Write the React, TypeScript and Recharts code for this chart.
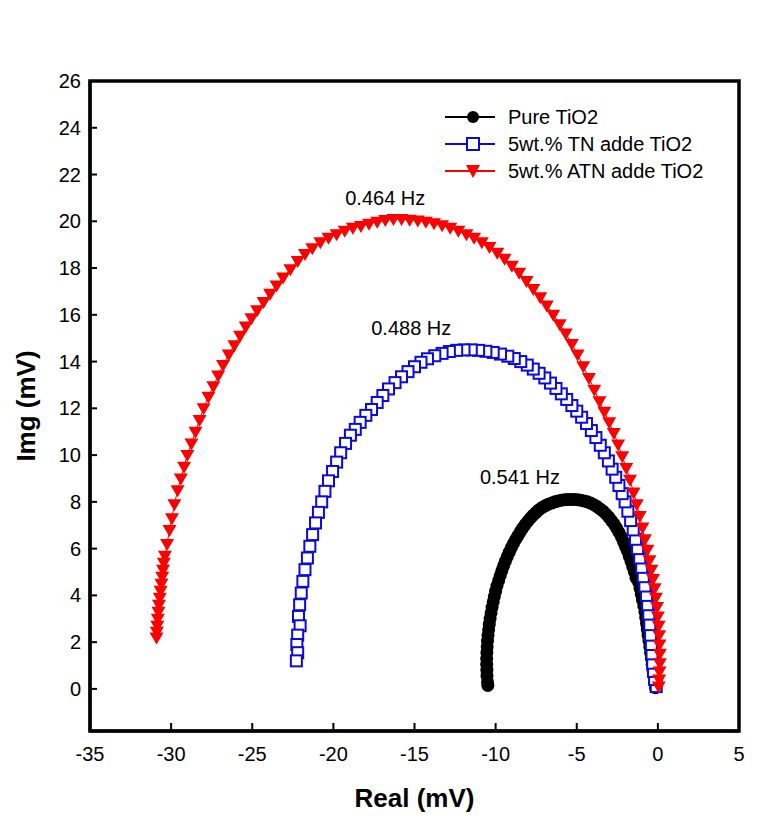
import React from 'react';
import { ScatterChart, Scatter, XAxis, YAxis, ReferenceArea, ReferenceDot } from 'recharts';

const FONT = '"Liberation Sans", Arial, sans-serif';

const seriesNames = ['Pure TiO2', '5wt.% TN adde TiO2', '5wt.% ATN adde TiO2'];
const seriesColors = ['#000000', '#0a0ae0', '#ff0000'];

const xTicks = [-35, -30, -25, -20, -15, -10, -5, 0, 5];
const yTicks = [0, 2, 4, 6, 8, 10, 12, 14, 16, 18, 20, 22, 24, 26];

const freqLabels = ['0.464 Hz', '0.488 Hz', '0.541 Hz'];
const freqLabelX = [-16.8, -15.2, -8.5];
const freqLabelY = [21.0, 15.45, 9.05];

// Pure TiO2
const pureX = [
  -0.15, -0.2, -0.25, -0.3, -0.35, -0.4, -0.45, -0.5, -0.55, -0.6,
  -0.65, -0.7, -0.75, -0.8, -0.87, -0.95, -1.02, -1.1, -1.18,
  -1.35, -1.45, -1.55, -1.65, -1.76, -1.88, -2.0, -2.12, -2.25, -2.4,
  -2.55, -2.7, -2.86, -3.03, -3.2, -3.38, -3.56, -3.75, -3.95, -4.15,
  -4.35, -4.55, -4.75, -4.95, -5.15, -5.35, -5.55, -5.75, -5.95, -6.15,
  -6.35, -6.55, -6.75, -6.95, -7.15, -7.35, -7.52, -7.7, -7.86, -8.02,
  -8.18, -8.33, -8.48, -8.62, -8.76, -8.9, -9.03, -9.16, -9.28, -9.4,
  -9.51, -9.62, -9.72, -9.82, -9.92, -10.0, -10.08, -10.15, -10.22, -10.28,
  -10.34, -10.39, -10.43, -10.47, -10.5, -10.52, -10.54, -10.55, -10.55, -10.54,
  -10.53, -10.5, -10.48,
];
const pureY = [
  0.05, 0.3, 0.55, 0.8, 1.05, 1.3, 1.55, 1.8, 2.05, 2.3,
  2.55, 2.8, 3.05, 3.3, 3.55, 3.8, 4.05, 4.3, 4.55,
  4.75, 5.0, 5.22, 5.45, 5.67, 5.9, 6.1, 6.3, 6.5, 6.7,
  6.88, 7.05, 7.2, 7.35, 7.48, 7.6, 7.7, 7.8, 7.88, 7.95,
  8.0, 8.04, 8.07, 8.09, 8.1, 8.1, 8.1, 8.09, 8.07, 8.04,
  8.0, 7.95, 7.9, 7.83, 7.75, 7.65, 7.54, 7.42, 7.3, 7.17,
  7.03, 6.88, 6.72, 6.56, 6.4, 6.22, 6.04, 5.85, 5.66, 5.46,
  5.26, 5.05, 4.84, 4.62, 4.4, 4.18, 3.95, 3.72, 3.49, 3.25,
  3.01, 2.77, 2.53, 2.29, 2.05, 1.8, 1.55, 1.3, 1.05, 0.8,
  0.55, 0.3, 0.15,
];

// 5wt.% TN adde TiO2
const tnX = [
  -0.1, -0.2, -0.27, -0.32, -0.36, -0.4, -0.45, -0.5, -0.56, -0.63,
  -0.7, -0.8, -0.9, -1.0, -1.12, -1.25, -1.38, -1.52, -1.68, -1.85,
  -2.02, -2.2, -2.4, -2.6, -2.82, -3.05, -3.3, -3.55, -3.82, -4.1,
  -4.4, -4.7, -5.0, -5.3, -5.62, -5.95, -6.28, -6.62, -6.97, -7.32,
  -7.68, -8.05, -8.45, -8.85, -9.25, -9.7, -10.15, -10.6, -11.05, -11.5,
  -11.95, -12.4, -12.85, -13.3, -13.75, -14.2, -14.6, -15.0, -15.4, -15.8,
  -16.2, -16.6, -16.95, -17.3, -17.65, -18.0, -18.35, -18.65, -18.95, -19.25,
  -19.55, -19.8, -20.05, -20.3, -20.52, -20.72, -20.92, -21.1, -21.28, -21.45,
  -21.6, -21.75, -21.88, -21.98, -22.08, -22.15, -22.05, -22.2, -22.25, -22.2, -22.28,
];
const tnY = [
  0.1, 0.4, 0.75, 1.1, 1.5, 1.9, 2.3, 2.75, 3.2, 3.6,
  4.0, 4.4, 4.8, 5.2, 5.6, 6.0, 6.4, 6.8, 7.2, 7.6,
  8.0, 8.35, 8.7, 9.05, 9.4, 9.75, 10.1, 10.42, 10.75, 11.05,
  11.35, 11.62, 11.88, 12.12, 12.38, 12.62, 12.85, 13.08, 13.3, 13.5,
  13.68, 13.85, 14.0, 14.13, 14.23, 14.32, 14.39, 14.44, 14.48, 14.5,
  14.5, 14.48, 14.43, 14.35, 14.25, 14.12, 13.97, 13.78, 13.57, 13.35,
  13.1, 12.83, 12.55, 12.25, 11.95, 11.7, 11.4, 11.1, 10.85, 10.5,
  10.1, 9.7, 9.3, 8.9, 8.45, 8.0, 7.55, 7.1, 6.6, 6.1,
  5.6, 5.1, 4.6, 4.1, 3.6, 3.1, 2.7, 2.3, 1.9, 1.55, 1.2,
];

// 5wt.% ATN adde TiO2
const atnX = [
  0.05, 0.08, 0.1, 0.12, 0.12, 0.1, 0.08, 0.05, 0.0, -0.05,
  -0.12, -0.2, -0.3, -0.4, -0.52, -0.65, -0.8, -0.95, -1.12, -1.3,
  -1.5, -1.72, -1.95, -2.2, -2.45, -2.72, -3.0, -3.3, -3.6, -3.92,
  -4.25, -4.6, -4.95, -5.3, -5.68, -6.05, -6.45, -6.85, -7.25, -7.68,
  -8.1, -8.55, -9.0, -9.45, -9.9, -10.38, -10.85, -11.33, -11.8, -12.3,
  -12.8, -13.3, -13.8, -14.3, -14.8, -15.3, -15.8, -16.3, -16.8, -17.3,
  -17.8, -18.3, -18.8, -19.3, -19.8, -20.3, -20.8, -21.3, -21.75, -22.2,
  -22.65, -23.1, -23.5, -23.9, -24.3, -24.7, -25.05, -25.4, -25.75, -26.1,
  -26.45, -26.8, -27.1, -27.4, -27.7, -28.0, -28.25, -28.5, -28.75, -29.0,
  -29.2, -29.4, -29.6, -29.8, -29.95, -30.1, -30.25, -30.38, -30.45, -30.5,
  -30.55, -30.6, -30.65, -30.7, -30.75, -30.78, -30.82, -30.85, -30.88, -30.9,
];
const atnY = [
  0.1, 0.4, 0.75, 1.1, 1.5, 1.9, 2.3, 2.7, 3.1, 3.5,
  3.9, 4.3, 4.7, 5.1, 5.5, 5.95, 6.4, 6.9, 7.4, 7.9,
  8.4, 8.95, 9.45, 9.95, 10.45, 10.95, 11.4, 11.85, 12.3, 12.8,
  13.3, 13.8, 14.3, 14.75, 15.2, 15.6, 16.0, 16.4, 16.75, 17.1,
  17.45, 17.8, 18.1, 18.4, 18.65, 18.9, 19.1, 19.3, 19.45, 19.6,
  19.72, 19.83, 19.92, 19.98, 20.03, 20.07, 20.1, 20.1, 20.05, 19.98,
  19.9, 19.8, 19.72, 19.6, 19.45, 19.3, 19.1, 18.85, 18.6, 18.3,
  17.95, 17.6, 17.25, 16.9, 16.55, 16.2, 15.85, 15.5, 15.1, 14.7,
  14.3, 13.85, 13.4, 12.95, 12.5, 12.0, 11.5, 11.0, 10.5, 10.0,
  9.5, 9.0, 8.5, 7.9, 7.3, 6.8, 6.2, 5.7, 5.4, 5.1,
  4.8, 4.5, 4.2, 3.9, 3.6, 3.3, 3.0, 2.7, 2.45, 2.2,
];

const toPoints = (xs: number[], ys: number[]) => xs.map((x, i) => ({ x, y: ys[i] }));
const pureData = toPoints(pureX, pureY);
const tnData = toPoints(tnX, tnY);
const atnData = toPoints(atnX, atnY);

const CircleMark = (p: any) => <circle cx={p.cx} cy={p.cy} r={6.5} fill={seriesColors[0]} />;
const SquareMark = (p: any) => (
  <rect x={p.cx - 5.5} y={p.cy - 5.5} width={11} height={11} fill="#fff" stroke={seriesColors[1]} strokeWidth={2} />
);
const TriangleMark = (p: any) => (
  <polygon
    points={`${p.cx - 7},${p.cy - 5} ${p.cx + 7},${p.cy - 5} ${p.cx},${p.cy + 7}`}
    fill={seriesColors[2]}
  />
);

const legendMarks = [
  <circle cx={33} cy={12} r={6} fill={seriesColors[0]} />,
  <rect x={27} y={6} width={12} height={12} fill="#fff" stroke={seriesColors[1]} strokeWidth={2} />,
  <polygon points="26,6 40,6 33,19" fill={seriesColors[2]} />,
];

export default function App() {
  return (
    <div style={{ position: 'absolute', left: 0, top: 0, width: 782, height: 821, background: '#fff', fontFamily: FONT }}>
      <ScatterChart width={782} height={821} margin={{ top: 81, right: 43, bottom: 0, left: 0 }}>
        <XAxis
          dataKey="x"
          type="number"
          domain={[-35, 5]}
          ticks={xTicks}
          allowDataOverflow
          height={90}
          axisLine={{ stroke: '#000', strokeWidth: 3 }}
          tickLine={{ stroke: '#000', strokeWidth: 2 }}
          tickSize={-8}
          tickMargin={24}
          tick={{ fill: '#000', fontSize: 20, fontFamily: FONT }}
          label={{ value: 'Real (mV)', position: 'insideBottom', offset: 14, fill: '#000', fontSize: 26, fontWeight: 'bold', fontFamily: FONT }}
        />
        <YAxis
          dataKey="y"
          type="number"
          domain={[-1.8, 26]}
          ticks={yTicks}
          allowDataOverflow
          width={90}
          axisLine={{ stroke: '#000', strokeWidth: 3 }}
          tickLine={{ stroke: '#000', strokeWidth: 2 }}
          tickSize={-7}
          tickMargin={16}
          tick={{ fill: '#000', fontSize: 20, fontFamily: FONT }}
          label={{ value: 'Img (mV)', angle: -90, position: 'insideLeft', offset: 26, fill: '#000', fontSize: 26, fontWeight: 'bold', fontFamily: FONT, style: { textAnchor: 'middle' } }}
        />
        <ReferenceArea x1={-35} x2={5} y1={-1.8} y2={26} fill="none" stroke="#000" strokeWidth={3.5} ifOverflow="visible" />
        <Scatter name={seriesNames[0]} data={pureData} fill={seriesColors[0]} shape={CircleMark} line={{ stroke: seriesColors[0], strokeWidth: 1 }} isAnimationActive={false} />
        <Scatter name={seriesNames[1]} data={tnData} fill={seriesColors[1]} shape={SquareMark} line={{ stroke: seriesColors[1], strokeWidth: 1 }} isAnimationActive={false} />
        <Scatter name={seriesNames[2]} data={atnData} fill={seriesColors[2]} shape={TriangleMark} line={{ stroke: seriesColors[2], strokeWidth: 1 }} isAnimationActive={false} />
        {freqLabels.map((t, i) => (
          <ReferenceDot
            key={t}
            x={freqLabelX[i]}
            y={freqLabelY[i]}
            r={0}
            fill="none"
            stroke="none"
            label={{ value: t, position: 'center', fill: '#000', fontSize: 20, fontFamily: FONT }}
          />
        ))}
      </ScatterChart>
      {seriesNames.map((name, i) => (
        <div
          key={name}
          style={{ position: 'absolute', left: 440, top: 105 + i * 27, height: 24, display: 'flex', alignItems: 'center', whiteSpace: 'nowrap' }}
        >
          <svg width={68} height={24} style={{ display: 'block' }}>
            <line x1={5} y1={12} x2={55} y2={12} stroke={seriesColors[i]} strokeWidth={2} />
            {legendMarks[i]}
          </svg>
          <span style={{ fontSize: 20, color: '#000', lineHeight: '24px' }}>{name}</span>
        </div>
      ))}
    </div>
  );
}
